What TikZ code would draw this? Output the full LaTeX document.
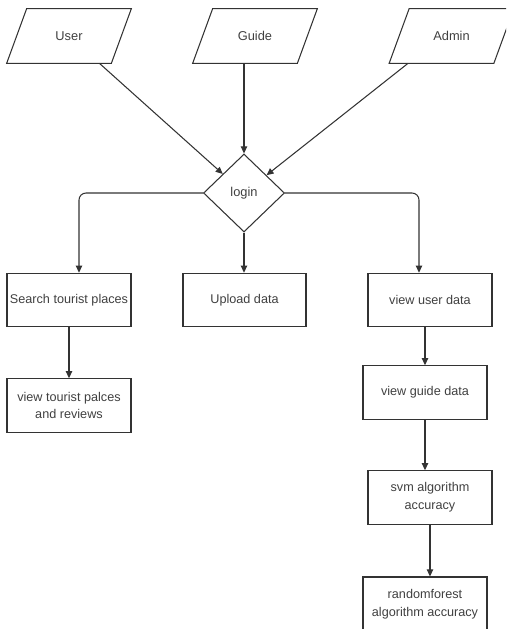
\documentclass[tikz,border=0pt]{standalone}
\usepackage{fontspec}
\setmainfont{Liberation Sans}
\usetikzlibrary{positioning,arrows.meta,shapes.geometric,calc}

\begin{document}
\begin{tikzpicture}[
    actor/.style={rectangle, minimum width=2.48cm, minimum height=1.08cm,
        inner sep=1pt, font=\fontsize{7.3}{10}\selectfont, text=black!75},
    action/.style={rectangle, draw=black!80, line width=0.6pt,
        minimum width=2.48cm, minimum height=1.07cm, align=center,
        inner xsep=1.2pt, font=\fontsize{7.2}{10}\selectfont, text=black!75},
    decision/.style={diamond, draw=black!80, line width=0.6pt,
        minimum width=1.62cm, minimum height=1.56cm, inner sep=1pt,
        font=\fontsize{7.3}{10}\selectfont, text=black!75},
    arrow/.style={-{Triangle[length=4pt,width=3.6pt]}, line width=0.6pt, draw=black!80}
]
\useasboundingbox (0,0) rectangle (10.12,-12.58);
\clip (0,0) rectangle (10.12,-12.58);

% Actors
\node[actor] (user) at (1.38,-0.72) {User};
\node[actor] (guide) at (5.10,-0.72) {Guide};
\node[actor] (admin) at (9.03,-0.72) {Admin};
\foreach \n in {user,guide,admin}
    \draw[draw=black!80, line width=0.6pt] (\n.south west) -- ($(\n.north west)+(0.4,0)$)
        -- (\n.north east) -- ($(\n.south east)+(-0.4,0)$) -- cycle;

% Login
\node[decision] (login) at (4.88,-3.86) {login};

% Main flow
\node[action] (search) at (1.38,-6.00) {Search tourist places};
\node[action, minimum width=2.46cm] (upload) at (4.89,-6.00) {Upload data};
\node[action] (viewuser) at (8.60,-6.00) {view user data};
\node[action] (viewplaces) at (1.38,-8.11) {view tourist palces\\and reviews};
\node[action] (viewguide) at (8.50,-7.85) {view guide data};
\node[action] (svm) at (8.60,-9.95) {svm algorithm\\accuracy};
\node[action, minimum height=1.08cm] (forest) at (8.50,-12.08) {randomforest\\algorithm accuracy};

% Arrows
\draw[arrow] (user) -- (login);
\draw[arrow] (guide.south -| login.north) -- (login.north);
\draw[arrow] ($(admin.south)+(-0.87,0)$) -- (login);
\draw[arrow, rounded corners=4pt] (login.west) -| ($(search.north)+(0.2,0)$);
\draw[arrow] (login.south) -- (upload.north -| login.south);
\draw[arrow, rounded corners=4pt] (login.east) -| ($(viewuser.north)+(-0.22,0)$);
\draw[arrow] (search) -- (viewplaces);
\draw[arrow] (viewuser.south -| viewguide.north) -- (viewguide.north);
\draw[arrow] (viewguide.south) -- (viewguide.south |- svm.north);
\draw[arrow] (svm.south) -- (svm.south |- forest.north);

\end{tikzpicture}
\end{document}
